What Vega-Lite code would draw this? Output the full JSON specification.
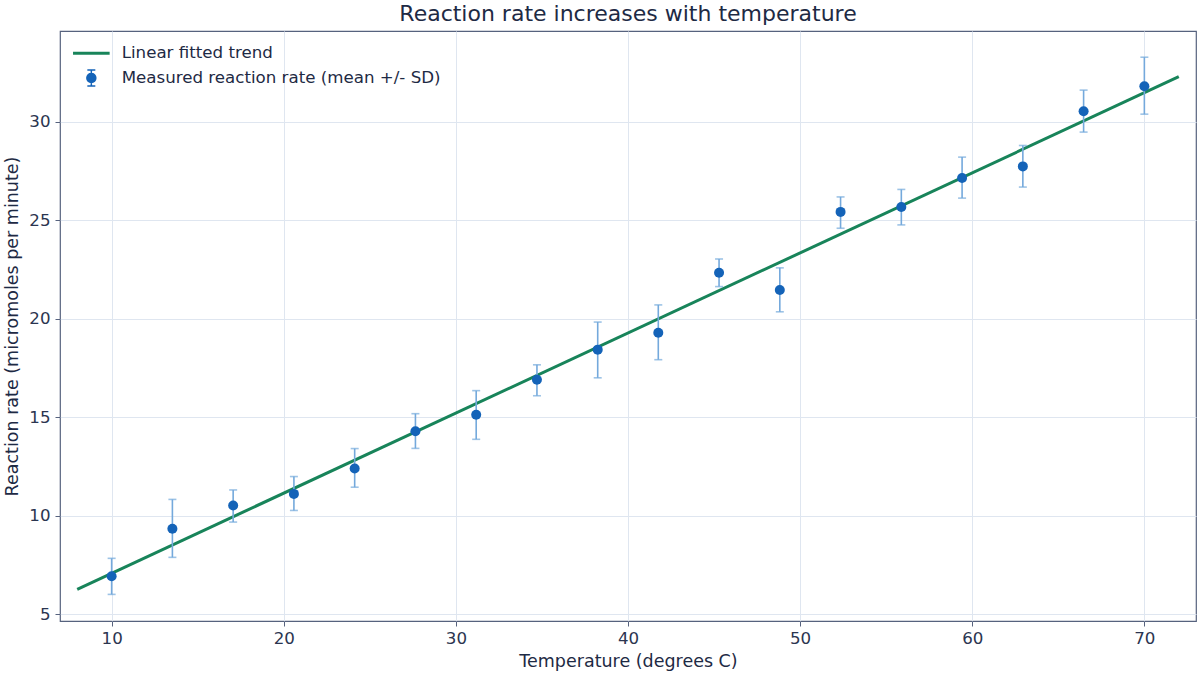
{
  "$schema": "https://vega.github.io/schema/vega-lite/v6.json",
  "width": 1136,
  "height": 590,
  "autosize": {"type": "none"},
  "padding": {"left": 60, "top": 31, "right": 4, "bottom": 54},
  "background": "white",
  "title": {
    "text": "Reaction rate increases with temperature",
    "font": "DejaVu Sans",
    "fontSize": 22,
    "fontWeight": "normal",
    "color": "#1e2a44",
    "offset": 5,
    "anchor": "middle"
  },
  "config": {
    "view": {"stroke": "#56627e", "strokeWidth": 1.2},
    "axis": {
      "labelFont": "DejaVu Sans",
      "labelFontSize": 16.67,
      "labelColor": "#2b3550",
      "titleFont": "DejaVu Sans",
      "titleFontSize": 17.5,
      "titleFontWeight": "normal",
      "titleColor": "#1e2a44",
      "tickColor": "#56627e",
      "tickSize": 5,
      "tickWidth": 1,
      "domain": false,
      "grid": true,
      "gridColor": "#dfe6f0",
      "gridWidth": 1
    }
  },
  "datasets": {
    "meas": [
      {"temp": 10.0, "rate": 6.93, "lo": 6.01, "hi": 7.84, "series": "Measured reaction rate (mean +/- SD)"},
      {"temp": 13.53, "rate": 9.34, "lo": 7.89, "hi": 10.83, "series": "Measured reaction rate (mean +/- SD)"},
      {"temp": 17.06, "rate": 10.52, "lo": 9.68, "hi": 11.31, "series": "Measured reaction rate (mean +/- SD)"},
      {"temp": 20.59, "rate": 11.11, "lo": 10.27, "hi": 11.99, "series": "Measured reaction rate (mean +/- SD)"},
      {"temp": 24.12, "rate": 12.40, "lo": 11.45, "hi": 13.41, "series": "Measured reaction rate (mean +/- SD)"},
      {"temp": 27.65, "rate": 14.29, "lo": 13.42, "hi": 15.18, "series": "Measured reaction rate (mean +/- SD)"},
      {"temp": 31.18, "rate": 15.13, "lo": 13.88, "hi": 16.35, "series": "Measured reaction rate (mean +/- SD)"},
      {"temp": 34.71, "rate": 16.90, "lo": 16.09, "hi": 17.66, "series": "Measured reaction rate (mean +/- SD)"},
      {"temp": 38.24, "rate": 18.43, "lo": 17.00, "hi": 19.83, "series": "Measured reaction rate (mean +/- SD)"},
      {"temp": 41.76, "rate": 19.29, "lo": 17.92, "hi": 20.70, "series": "Measured reaction rate (mean +/- SD)"},
      {"temp": 45.29, "rate": 22.33, "lo": 21.63, "hi": 23.03, "series": "Measured reaction rate (mean +/- SD)"},
      {"temp": 48.82, "rate": 21.46, "lo": 20.35, "hi": 22.58, "series": "Measured reaction rate (mean +/- SD)"},
      {"temp": 52.35, "rate": 25.42, "lo": 24.59, "hi": 26.18, "series": "Measured reaction rate (mean +/- SD)"},
      {"temp": 55.88, "rate": 25.67, "lo": 24.76, "hi": 26.56, "series": "Measured reaction rate (mean +/- SD)"},
      {"temp": 59.41, "rate": 27.14, "lo": 26.12, "hi": 28.20, "series": "Measured reaction rate (mean +/- SD)"},
      {"temp": 62.94, "rate": 27.73, "lo": 26.68, "hi": 28.79, "series": "Measured reaction rate (mean +/- SD)"},
      {"temp": 66.47, "rate": 30.53, "lo": 29.47, "hi": 31.60, "series": "Measured reaction rate (mean +/- SD)"},
      {"temp": 70.0, "rate": 31.80, "lo": 30.38, "hi": 33.27, "series": "Measured reaction rate (mean +/- SD)"}
    ],
    "fit": [
      {"temp": 8, "rate": 6.27},
      {"temp": 72, "rate": 32.28}
    ]
  },
  "layer": [
    {
      "data": {"name": "fit"},
      "mark": {"type": "line", "color": "#18845a", "strokeWidth": 3},
      "encoding": {
        "x": {
          "field": "temp", "type": "quantitative",
          "scale": {"domain": [7, 73], "nice": false, "zero": false},
          "axis": {"values": [10, 20, 30, 40, 50, 60, 70], "title": "Temperature (degrees C)", "labelPadding": 4, "titlePadding": 6}
        },
        "y": {
          "field": "rate", "type": "quantitative",
          "scale": {"domain": [4.66, 34.6], "nice": false, "zero": false},
          "axis": {"values": [5, 10, 15, 20, 25, 30], "title": "Reaction rate (micromoles per minute)", "labelPadding": 5, "titlePadding": 7}
        }
      }
    },
    {
      "data": {"name": "meas"},
      "mark": {"type": "rule", "color": "#74a9dc", "strokeWidth": 1.6},
      "encoding": {
        "x": {"field": "temp", "type": "quantitative"},
        "y": {"field": "lo", "type": "quantitative"},
        "y2": {"field": "hi"}
      }
    },
    {
      "data": {"name": "meas"},
      "mark": {"type": "tick", "orient": "horizontal", "color": "#74a9dc", "size": 8, "thickness": 1.6},
      "encoding": {
        "x": {"field": "temp", "type": "quantitative"},
        "y": {"field": "lo", "type": "quantitative"}
      }
    },
    {
      "data": {"name": "meas"},
      "mark": {"type": "tick", "orient": "horizontal", "color": "#74a9dc", "size": 8, "thickness": 1.6},
      "encoding": {
        "x": {"field": "temp", "type": "quantitative"},
        "y": {"field": "hi", "type": "quantitative"}
      }
    },
    {
      "data": {"name": "meas"},
      "mark": {"type": "point", "filled": true, "size": 100, "opacity": 1, "color": "#1463b8"},
      "encoding": {
        "x": {"field": "temp", "type": "quantitative"},
        "y": {"field": "rate", "type": "quantitative"}
      }
    },
    {
      "data": {"name": "meas"},
      "mark": {"type": "point", "filled": true, "size": 100, "opacity": 0},
      "encoding": {
        "x": {"field": "temp", "type": "quantitative"},
        "y": {"field": "rate", "type": "quantitative"},
        "color": {
          "field": "series", "type": "nominal",
          "scale": {"domain": ["Linear fitted trend", "Measured reaction rate (mean +/- SD)"], "range": ["#18845a", "#1463b8"]},
          "legend": {
            "title": null, "orient": "none", "legendX": 23, "legendY": 14, "padding": 0,
            "labelFont": "DejaVu Sans", "labelFontSize": 16.67, "labelColor": "#1e2a44", "labelLimit": 0,
            "labelOffset": 22, "rowPadding": 5.6, "symbolSize": 100, "symbolOpacity": 1, "symbolStrokeWidth": 0
          }
        },
        "shape": {
          "field": "series", "type": "nominal",
          "scale": {
            "domain": ["Linear fitted trend", "Measured reaction rate (mean +/- SD)"],
            "range": [
              "M-3.66,-0.3H3.66V0.3H-3.66Z",
              "M1.05,0L0.97,0.402L0.742,0.742L0.402,0.97L0,1.05L-0.402,0.97L-0.742,0.742L-0.97,0.402L-1.05,0L-0.97,-0.402L-0.742,-0.742L-0.402,-0.97L0,-1.05L0.402,-0.97L0.742,-0.742L0.97,-0.402Z M-0.15,-1.6H0.15V1.6H-0.15Z M-0.8,-1.75H0.8V-1.45H-0.8Z M-0.8,1.45H0.8V1.75H-0.8Z"
            ]
          },
          "legend": {
            "title": null, "orient": "none", "legendX": 23, "legendY": 14, "padding": 0,
            "labelFont": "DejaVu Sans", "labelFontSize": 16.67, "labelColor": "#1e2a44", "labelLimit": 0,
            "labelOffset": 22, "rowPadding": 5.6, "symbolSize": 100, "symbolOpacity": 1, "symbolStrokeWidth": 0
          }
        }
      }
    }
  ]
}
